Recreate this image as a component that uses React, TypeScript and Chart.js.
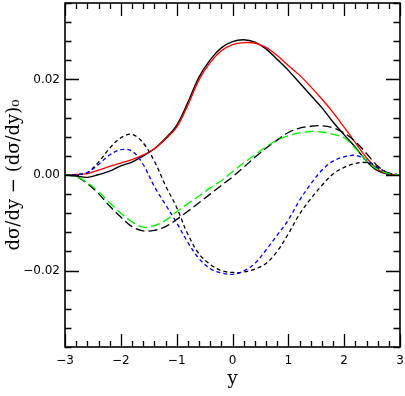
import React, { useEffect, useRef } from 'react';
import { Chart, registerables } from 'chart.js';

Chart.register(...registerables);

// x positions (rapidity y)
const xs = [
  -3.0, -2.8, -2.6, -2.4, -2.2, -2.0, -1.8, -1.6, -1.4, -1.2, -1.0,
  -0.8, -0.6, -0.4, -0.2, 0.0, 0.2, 0.4, 0.6, 0.8, 1.0,
  1.2, 1.4, 1.6, 1.8, 2.0, 2.2, 2.4, 2.6, 2.8, 3.0,
];

// black solid
const blackSolid = [
  0, -0.0002, -0.0005, 0.0001, 0.0008, 0.0019, 0.0027, 0.004, 0.0055, 0.0077, 0.0104,
  0.0152, 0.0205, 0.0241, 0.0266, 0.0279, 0.0283, 0.0278, 0.0264, 0.0242, 0.0219,
  0.0193, 0.0167, 0.0141, 0.0111, 0.0084, 0.0058, 0.0029, 0.0009, 0.0001, 0,
];

// red solid
const redSolid = [
  0, 0.0001, 0.0003, 0.001, 0.0018, 0.0025, 0.0032, 0.0042, 0.0055, 0.0075, 0.01,
  0.0146, 0.0199, 0.0235, 0.026, 0.0273, 0.0277, 0.0276, 0.0267, 0.025, 0.0229,
  0.0209, 0.0185, 0.0159, 0.0131, 0.01, 0.0068, 0.0036, 0.0012, 0.0002, 0,
];

// black short-dashed
const blackShortDash = [
  0, 0.0001, 0.0005, 0.0027, 0.0056, 0.0078, 0.0085, 0.0067, 0.0029, -0.0022, -0.0068,
  -0.0124, -0.0165, -0.0187, -0.02, -0.0204, -0.0203, -0.0197, -0.0185, -0.016, -0.0123,
  -0.0082, -0.005, -0.0022, 0.0002, 0.0016, 0.0024, 0.0026, 0.0015, 0.0004, 0,
];

// blue short-dashed
const blueShortDash = [
  0, 0.0001, 0.0005, 0.0022, 0.0042, 0.0053, 0.005, 0.0022, -0.0024, -0.0062, -0.01,
  -0.0141, -0.0175, -0.0196, -0.0205, -0.0208, -0.0201, -0.0185, -0.0157, -0.0126, -0.0094,
  -0.0053, -0.0019, 0.001, 0.0029, 0.0038, 0.0041, 0.0031, 0.0016, 0.0004, 0,
];

// black long-dashed
const blackLongDash = [
  0, -0.0003, -0.0018, -0.0039, -0.0065, -0.0088, -0.0108, -0.0117, -0.0116, -0.0108, -0.0093,
  -0.0076, -0.0058, -0.004, -0.0022, -0.0004, 0.0016, 0.0037, 0.0056, 0.0073, 0.0089,
  0.0098, 0.0102, 0.0103, 0.0099, 0.0088, 0.007, 0.0045, 0.0019, 0.0004, 0,
];

// green long-dashed
const greenLongDash = [
  0, -0.0003, -0.0016, -0.0035, -0.0058, -0.008, -0.0098, -0.0109, -0.0106, -0.0095, -0.0077,
  -0.006, -0.0044, -0.0027, -0.0012, 0.0007, 0.0025, 0.0042, 0.0059, 0.0073, 0.0082,
  0.0088, 0.0091, 0.009, 0.0085, 0.0078, 0.0056, 0.003, 0.0012, 0.0003, 0,
];

const xMin = -3;
const xMax = 3;
const xStep = 0.2;
const yMin = -0.036;
const yMax = 0.036;
const yStep = 0.004;
const yMajor = 0.02;

const yTitle = 'd\u03C3/dy \u2212 (d\u03C3/dy)\u2080';
const xTitle = 'y';

const isMult = (v: number, m: number) => Math.abs(v / m - Math.round(v / m)) < 1e-6;
const fmt = (s: string) => s.replace('-', '\u2212');

const framePlugin = {
  id: 'frameTicks',
  afterDatasetsDraw(chart: any) {
    const { ctx, chartArea } = chart;
    const { left, right, top, bottom } = chartArea;
    const xs_ = chart.scales.x;
    const ys_ = chart.scales.y;
    ctx.save();
    ctx.strokeStyle = '#000';
    ctx.lineWidth = 1.3;
    ctx.beginPath();
    for (const t of xs_.ticks) {
      const p = Math.round(xs_.getPixelForValue(t.value)) + 0.5;
      const len = isMult(t.value, 1) ? 13 : 6;
      ctx.moveTo(p, bottom);
      ctx.lineTo(p, bottom - len);
      ctx.moveTo(p, top);
      ctx.lineTo(p, top + len);
    }
    for (const t of ys_.ticks) {
      const p = Math.round(ys_.getPixelForValue(t.value)) + 0.5;
      const len = isMult(t.value, yMajor) ? 14 : 6.5;
      ctx.moveTo(left, p);
      ctx.lineTo(left + len, p);
      ctx.moveTo(right, p);
      ctx.lineTo(right - len, p);
    }
    ctx.stroke();
    ctx.lineWidth = 1.6;
    ctx.strokeRect(left, top, right - left, bottom - top);
    ctx.restore();
  },
};

function mk(label: string, arr: number[], color: string, dash: number[], width: number) {
  return {
    label,
    data: xs.map((x, i) => ({ x, y: arr[i] })),
    borderColor: color,
    backgroundColor: color,
    borderWidth: width,
    borderDash: dash,
    pointRadius: 0,
    fill: false,
    tension: 0.35,
  };
}

export default function App() {
  const ref = useRef<HTMLCanvasElement | null>(null);
  useEffect(() => {
    if (!ref.current) return;
    const chart = new Chart(ref.current, {
      type: 'line',
      data: {
        datasets: [
          mk('green long dash', greenLongDash, '#00ee00', [9, 4], 1.3),
          mk('black long dash', blackLongDash, '#000000', [9, 4], 1.3),
          mk('blue short dash', blueShortDash, '#0000ff', [4, 3], 1.3),
          mk('black short dash', blackShortDash, '#000000', [4, 3], 1.3),
          mk('red', redSolid, '#ff0000', [], 1.3),
          mk('black', blackSolid, '#000000', [], 1.4),
        ],
      },
      options: {
        responsive: false,
        animation: false,
        events: [],
        layout: { autoPadding: false, padding: { top: 3, right: 5, left: 0, bottom: 0 } },
        plugins: { legend: { display: false }, tooltip: { enabled: false } },
        scales: {
          x: {
            type: 'linear',
            min: xMin,
            max: xMax,
            afterFit: (s: any) => {
              s.height = 49;
              s.paddingLeft = 0;
              s.paddingRight = 0;
            },
            grid: { display: false, drawTicks: false },
            border: { display: false },
            ticks: {
              stepSize: xStep,
              autoSkip: false,
              maxRotation: 0,
              padding: 7,
              color: '#000',
              font: { family: 'DejaVu Sans', size: 12 },
              callback: (v: any) => (isMult(Number(v), 1) ? fmt(String(Math.round(Number(v)))) : ''),
            },
            title: {
              display: true,
              text: xTitle,
              color: '#000',
              font: { family: 'DejaVu Serif', size: 18 },
              padding: { top: 0, bottom: 6 },
            },
          },
          y: {
            type: 'linear',
            min: yMin,
            max: yMax,
            afterFit: (s: any) => {
              s.width = 65;
              s.paddingTop = 0;
              s.paddingBottom = 0;
            },
            grid: { display: false, drawTicks: false },
            border: { display: false },
            ticks: {
              stepSize: yStep,
              autoSkip: false,
              padding: 5,
              color: '#000',
              font: { family: 'DejaVu Sans', size: 12 },
              callback: (v: any) => (isMult(Number(v), yMajor) ? fmt(Number(v).toFixed(2)) : ''),
            },
            title: {
              display: true,
              text: yTitle,
              color: '#000',
              font: { family: 'DejaVu Serif', size: 18 },
              padding: { top: 4, bottom: 0 },
            },
          },
        },
      },
      plugins: [framePlugin],
    });
    return () => chart.destroy();
  }, []);
  return (
    <div style={{ position: 'fixed', left: 0, top: 0, width: 405, height: 396, background: '#fff' }}>
      <canvas ref={ref} width={405} height={396} style={{ display: 'block' }} />
    </div>
  );
}
